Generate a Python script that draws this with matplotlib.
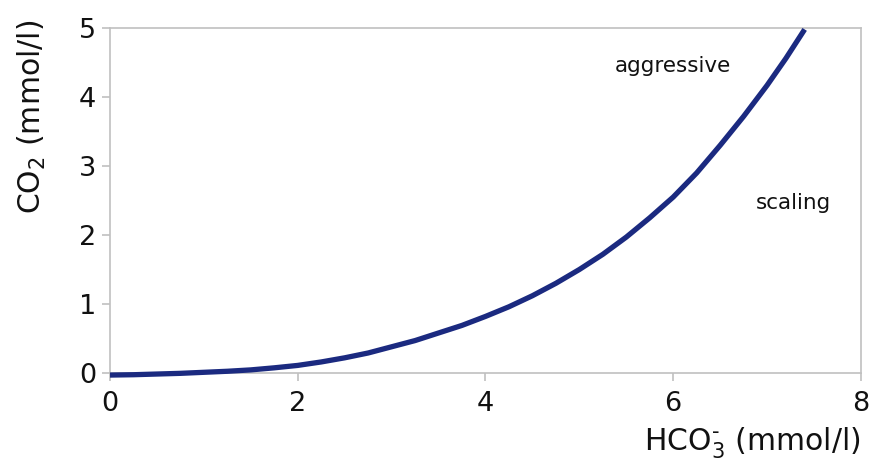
import matplotlib
matplotlib.use("Agg")
import matplotlib.pyplot as plt

# Data
hco3 = [0.0, 0.25, 0.5, 0.75, 1.0, 1.25, 1.5, 1.75, 2.0, 2.25, 2.5, 2.75, 3.0, 3.25,
        3.5, 3.75, 4.0, 4.25, 4.5, 4.75, 5.0, 5.25, 5.5, 5.75, 6.0, 6.25, 6.5, 6.75,
        7.0, 7.2, 7.4]
co2 = [-0.03, -0.025, -0.015, -0.005, 0.01, 0.025, 0.045, 0.075, 0.11, 0.16, 0.22,
       0.29, 0.38, 0.47, 0.58, 0.69, 0.82, 0.96, 1.12, 1.30, 1.50, 1.72, 1.97, 2.25,
       2.55, 2.90, 3.30, 3.72, 4.17, 4.56, 4.98]
x_ticks = [0, 2, 4, 6, 8]
y_ticks = [0, 1, 2, 3, 4, 5]
annotations = [("aggressive", 6.0, 4.45), ("scaling", 7.28, 2.46)]

plt.rcParams['font.family'] = ['DejaVu Sans']
plt.rcParams['mathtext.default'] = 'regular'

fig = plt.figure(figsize=(8.71, 4.67), dpi=100)
ax = fig.add_axes([0.1263, 0.2013, 0.8622, 0.7387])

ax.plot(hco3, co2, color='#1b2a80', lw=3.8, solid_capstyle='butt',
        solid_joinstyle='round', clip_on=False, zorder=3)

ax.set_xlim(0, 8)
ax.set_ylim(0, 5)
ax.set_xticks(x_ticks)
ax.set_yticks(y_ticks)

grey = '#c0c0c0'
for s in ax.spines.values():
    s.set_color(grey)
    s.set_linewidth(1.2)

ax.tick_params(axis='both', colors=grey, labelcolor='#111111', labelsize=19.5,
               length=6, width=1.2)
ax.tick_params(axis='x', pad=7)
ax.tick_params(axis='y', pad=4)

ax.set_ylabel(r'CO$_2$ (mmol/l)', fontsize=21.5, color='#111111', loc='top')
ax.yaxis.set_label_coords(-0.082, 1.025)
ax.set_xlabel(r'HCO$_3^{\bf{\text{-}}}$ (mmol/l)', fontsize=21.5, color='#111111',
              loc='right', labelpad=6)

for txt, x, y in annotations:
    ax.text(x, y, txt, fontsize=15.5, color='#111111', ha='center', va='center')

fig.savefig('out.png', dpi=100)
